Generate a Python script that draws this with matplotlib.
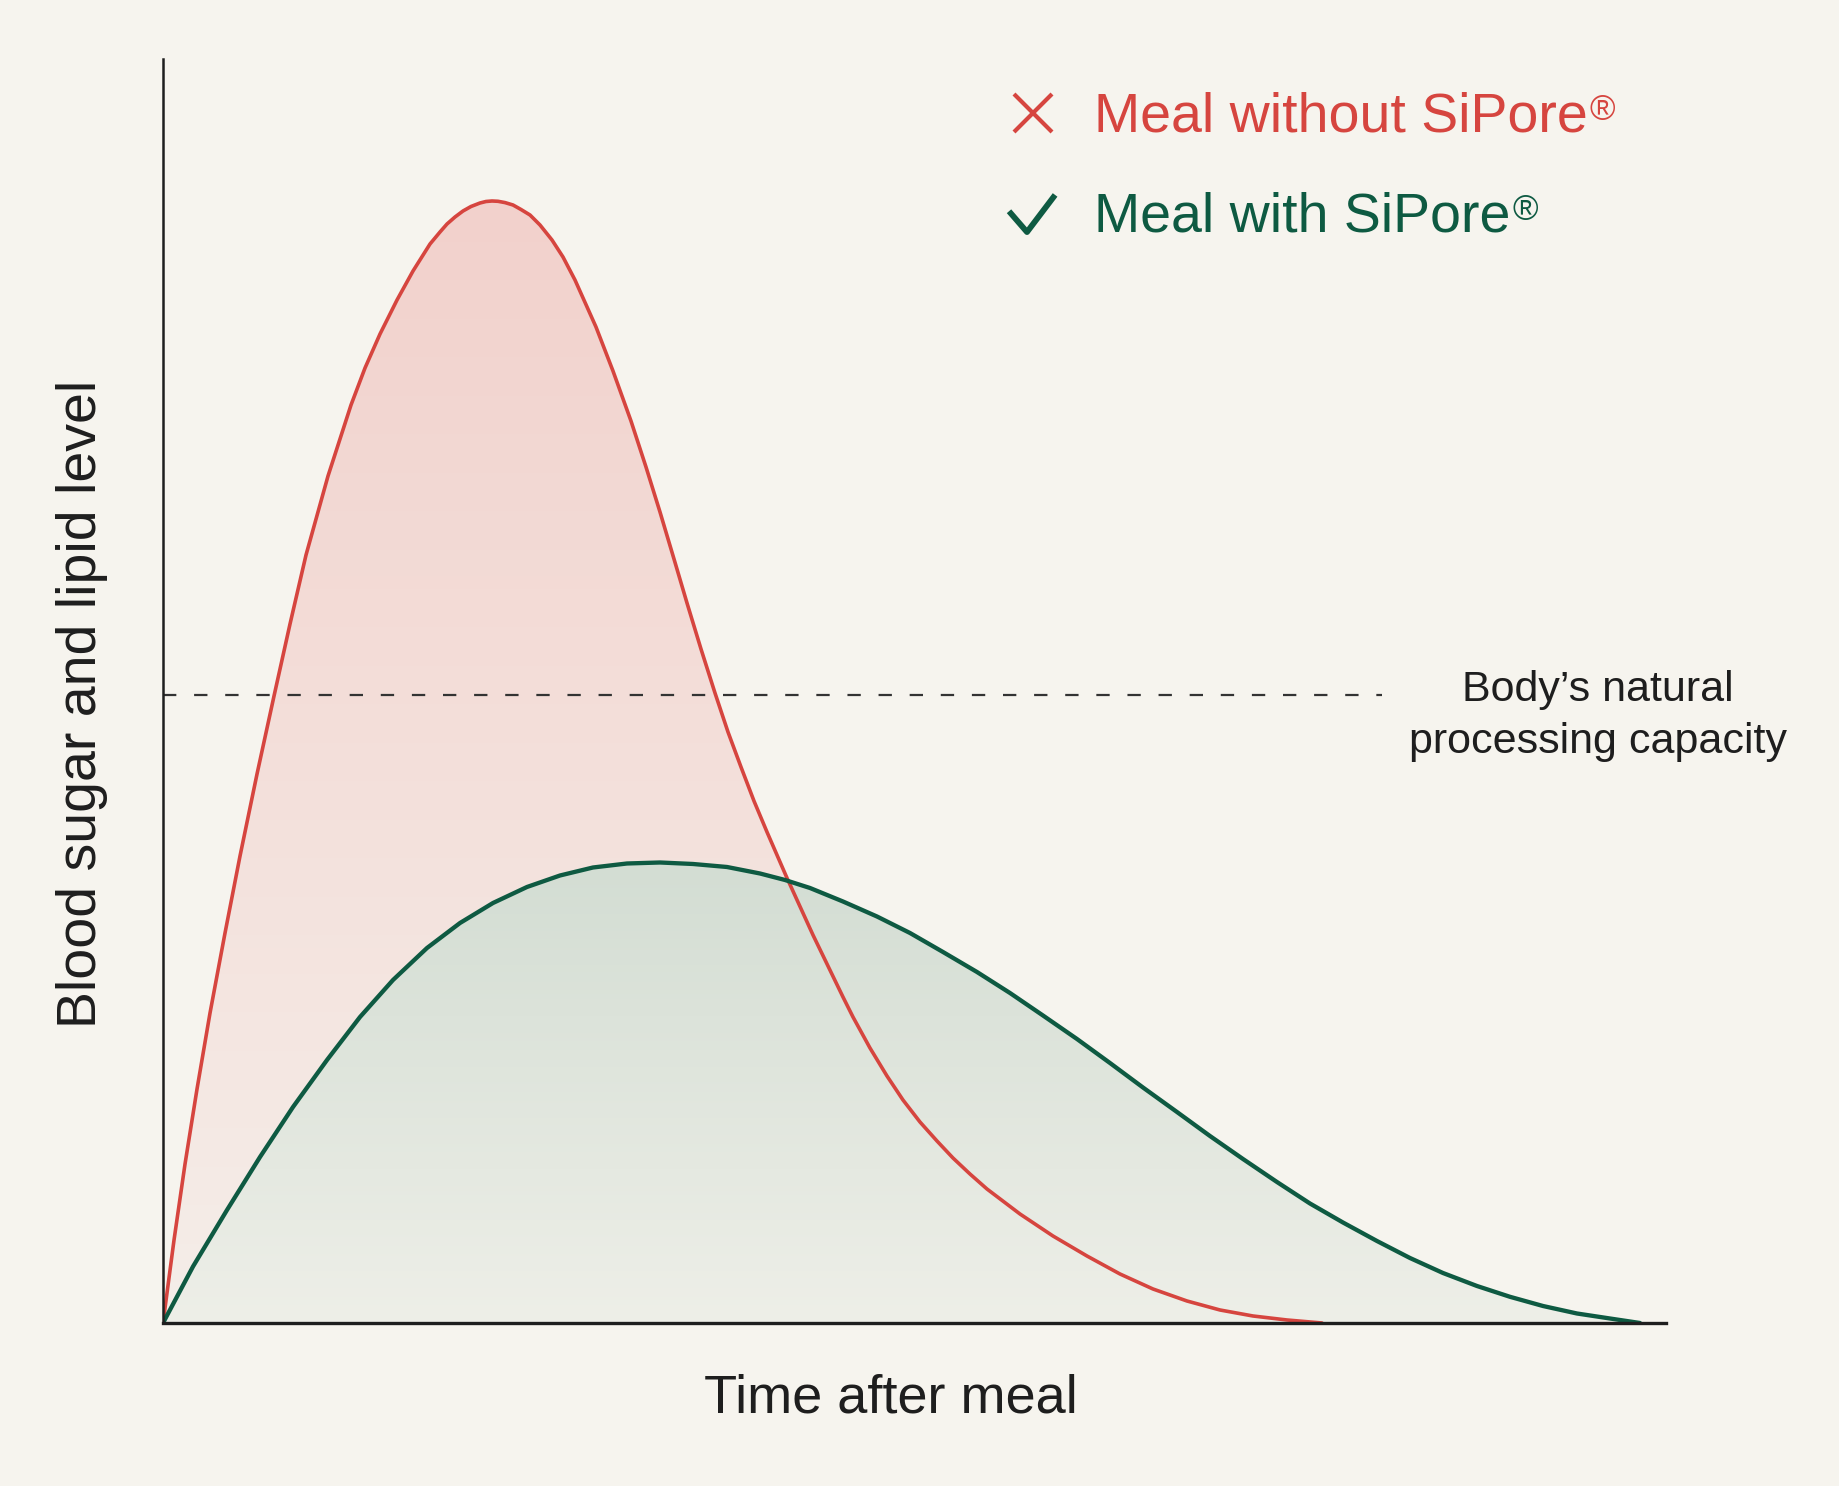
import numpy as np
import matplotlib
matplotlib.use("Agg")
import matplotlib.pyplot as plt
from matplotlib.colors import to_rgb
from matplotlib.path import Path
from matplotlib.markers import MarkerStyle

# ---------------- data (arbitrary units) ----------------
red_time = [0, 1.1, 2.2, 3.4, 4.7, 6.2, 7.7, 9.4, 11.1, 12.7, 14.3, 16.5, 18.8,
            20.2, 21.7, 23.4, 25.0, 26.7, 27.7, 28.4, 29.2, 30.0, 30.8, 31.7,
            32.3, 32.9, 33.5, 34.2, 35.0, 35.8, 36.7, 37.7, 38.9, 40.0, 41.2,
            43.3, 45.0, 46.8, 48.3, 49.7, 51.1, 52.4, 53.8, 55.2, 56.5, 57.8,
            59.1, 60.4, 62.4, 65.0, 68.0, 69.0, 70.7, 72.4, 74.0, 75.7, 77.4,
            79.0, 80.7, 82.4, 85.7, 89.0, 92.4, 95.7, 99.0, 102.4, 105.7, 109.0,
            112.4, 115.9]
red_level = [0, 8.3, 15.9, 23.4, 31.0, 39.0, 46.7, 54.9, 62.7, 69.9, 76.8, 84.7, 91.8,
             95.5, 98.9, 102.3, 105.2, 107.9, 109.1, 109.9, 110.6, 111.2, 111.65, 112.0,
             112.15, 112.2, 112.17, 112.04, 111.8, 111.35, 110.8, 109.8, 108.3, 106.6, 104.3,
             99.6, 95.2, 90.2, 85.6, 81.1, 76.4, 72.0, 67.4, 63.0, 59.1, 55.6,
             52.2, 49.1, 44.5, 38.8, 32.6, 30.6, 27.5, 24.7, 22.3, 20.1, 18.2,
             16.5, 14.9, 13.4, 10.9, 8.7, 6.7, 4.9, 3.4, 2.2, 1.3, 0.7,
             0.3, 0.0]

green_time = [0, 3.0, 6.4, 9.7, 13.0, 16.4, 19.7, 23.0, 26.4, 29.7, 33.0, 36.4,
              39.7, 43.0, 46.4, 49.7, 53.0, 56.4, 59.7, 62.2, 64.7, 68.0, 71.4,
              74.7, 78.0, 81.4, 84.7, 88.0, 91.4, 94.7, 98.0, 101.4, 104.7, 108.0,
              111.4, 114.7, 118.0, 121.4, 124.7, 128.0, 131.4, 134.7, 138.0, 141.4,
              144.7, 147.7]
green_level = [0, 5.65, 11.3, 16.6, 21.6, 26.3, 30.6, 34.3, 37.5, 40.0, 42.0, 43.6,
               44.75, 45.55, 45.95, 46.05, 45.9, 45.6, 44.95, 44.3, 43.5, 42.15, 40.65,
               39.0, 37.1, 35.1, 33.0, 30.75, 28.4, 26.0, 23.55, 21.1, 18.7, 16.4,
               14.1, 11.95, 10.05, 8.2, 6.5, 5.0, 3.7, 2.62, 1.7, 0.95,
               0.45, 0.0]

capacity_level = 62.75
capacity_end = 121.9
x_max = 150.3
y_max = 126.4

series_labels = ["Meal without SiPore", "Meal with SiPore"]
x_label = "Time after meal"
y_label = "Blood sugar and lipid level"
capacity_label = "Body\u2019s natural\nprocessing capacity"

# ---------------- style ----------------
BG = "#F6F4EE"
RED = "#D6453F"
GREEN = "#0E5A42"
INK = "#1E1E1E"
FONT = ["Liberation Sans", "DejaVu Sans"]

plt.rcParams["font.family"] = FONT

fig = plt.figure(figsize=(18.4, 14.86), dpi=100, facecolor=BG)
ax = fig.add_axes([0.0886, 0.1097, 0.9054 - 0.0886, 0.9603 - 0.1097])
ax.set_facecolor(BG)


def gradient_fill(x, y, top_rgb, bottom_rgb, zorder):
    x = np.asarray(x, float)
    y = np.asarray(y, float)
    poly = ax.fill_between(x, y, 0, facecolor="none", edgecolor="none", zorder=zorder)
    ymax = y.max()
    n = 256
    t = np.linspace(0, 1, n)[:, None]  # 0 = top, 1 = bottom
    top = np.array(to_rgb(top_rgb))
    bot = np.array(to_rgb(bottom_rgb))
    img = np.zeros((n, 1, 3))
    for c in range(3):
        img[:, :, c] = top[c] + (bot[c] - top[c]) * t
    im = ax.imshow(img, extent=[x.min(), x.max(), 0, ymax], origin="upper",
                   aspect="auto", zorder=zorder, interpolation="bilinear")
    im.set_clip_path(poly.get_paths()[0], transform=ax.transData)


gradient_fill(red_time, red_level, "#F2D1CC", "#F5EEE9", 1)
gradient_fill(green_time, green_level, "#D3DDD3", "#EEEFE8", 2)
ax.set_xlim(0, x_max)
ax.set_ylim(0, y_max)

ax.plot(red_time, red_level, color=RED, lw=2.6, zorder=4, solid_capstyle="round",
        solid_joinstyle="round")
ax.plot(green_time, green_level, color=GREEN, lw=3.1, zorder=5, solid_capstyle="round",
        solid_joinstyle="round")

ax.plot([0, capacity_end], [capacity_level, capacity_level], color="#333333",
        lw=1.6, linestyle=(0, (6, 8)), zorder=3)

# spines
for s in ["top", "right"]:
    ax.spines[s].set_visible(False)
ax.spines["left"].set_color(INK)
ax.spines["left"].set_linewidth(1.8)
ax.spines["bottom"].set_color(INK)
ax.spines["bottom"].set_linewidth(2.4)
ax.spines["left"].set_zorder(6)
ax.spines["bottom"].set_zorder(6)
ax.set_xticks([])
ax.set_yticks([])

# axis labels
ax.set_xlabel(x_label, fontsize=39, color=INK)
ax.xaxis.label.set_va("center")
ax.xaxis.set_label_coords(0.484, -0.060)
ax.set_ylabel(y_label, fontsize=40, color=INK)
ax.yaxis.label.set_va("center")
ax.yaxis.set_label_coords(-0.054, 0.49)

# capacity annotation
ax.text(0.955, 0.480, capacity_label, transform=ax.transAxes, ha="center",
        va="center", fontsize=31, color=INK, linespacing=1.4)

# legend symbols (cross and check mark)
cross_marker = MarkerStyle("x", capstyle="butt")
check_path = Path([(-20, 2.0), (-4, -16.5), (21, 16.5)],
                  [Path.MOVETO, Path.LINETO, Path.LINETO])
check_marker = MarkerStyle(check_path, fillstyle="none", joinstyle="miter",
                           capstyle="butt")
ax.plot([0.5787], [0.9573], marker=cross_marker, markersize=27, mew=3.0,
        color=RED, linestyle="none", transform=ax.transAxes, clip_on=False)
ax.plot([0.5777], [0.8782], marker=check_marker, markersize=34, mew=4.2,
        color=GREEN, markerfacecolor="none", linestyle="none",
        transform=ax.transAxes, clip_on=False)

# legend labels
legend_y = [0.9540, 0.8748]
colors = [RED, GREEN]
texts = []
for lab, yy, col in zip(series_labels, legend_y, colors):
    t = ax.text(0.6194, yy, lab, transform=ax.transAxes, ha="left", va="center",
                fontsize=40, color=col)
    texts.append((t, col))

fig.canvas.draw()
renderer = fig.canvas.get_renderer()
inv = fig.transFigure.inverted()
for t, col in texts:
    bb = t.get_window_extent(renderer)
    x1, ytop = inv.transform((bb.x1 + 2, bb.y1 - 3))
    fig.text(x1, ytop, "\u00AE", ha="left", va="top", fontsize=25, color=col)

fig.savefig("out.png", dpi=100, facecolor=BG)
